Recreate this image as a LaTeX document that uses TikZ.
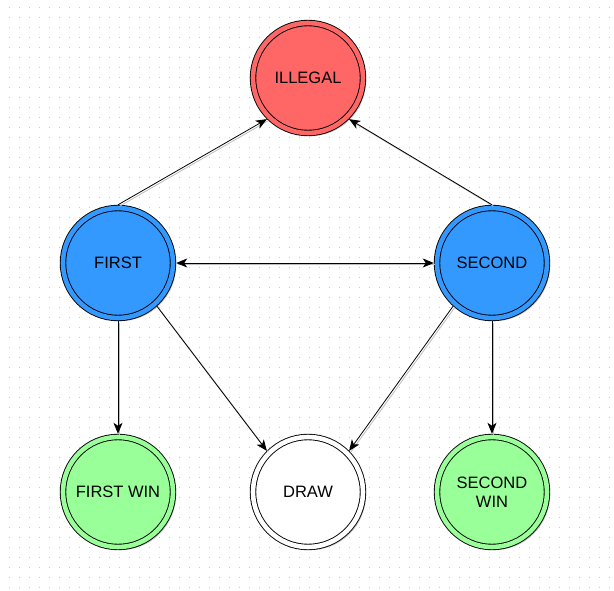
\documentclass[tikz,border=0pt]{standalone}
\usepackage{fontspec}
\setmainfont{Liberation Sans}
\usetikzlibrary{arrows.meta,shadows}
\definecolor{cred}{HTML}{FF6666}
\definecolor{cblue}{HTML}{3399FF}
\definecolor{cgreen}{HTML}{99FF99}
\definecolor{griddot}{HTML}{C8C8C8}
\definecolor{shcol}{HTML}{BEBEBE}
\tikzset{
  statenode/.style={circle, draw=black, line width=0.9pt, double=#1, double distance=4.6pt,
    fill=#1, minimum size=110pt, inner sep=0pt, outer sep=3.2pt, align=center,
    font=\fontsize{16.5}{19.5}\selectfont,
    drop shadow={shadow xshift=3pt, shadow yshift=-3pt, fill=shcol, opacity=0.8}},
  arr/.style={-{Stealth[length=11pt,width=9pt,inset=3pt]}, line width=0.8pt,
    preaction={draw=shcol, line width=0.8pt, -, transform canvas={shift={(1.5pt,-1.5pt)}}}},
  biarr/.style={{Stealth[length=11pt,width=9pt,inset=3pt]}-{Stealth[length=11pt,width=9pt,inset=3pt]}, line width=0.8pt,
    preaction={draw=shcol, line width=0.8pt, -, transform canvas={shift={(1.5pt,-1.5pt)}}}}
}
\begin{document}
\begin{tikzpicture}[x=1pt,y=-1pt]
\useasboundingbox[fill=white] (0,0) rectangle (614,591);
\foreach \i in {0,...,60}{
  \foreach \j in {0,...,58}{
    \fill[griddot] (9+10*\i,7+10*\j) rectangle ++(1.2,1.2);
  }
}
\node[statenode=cred] (illegal) at (308,78) {ILLEGAL};
\node[statenode=cblue] (first) at (118,263) {FIRST};
\node[statenode=cblue] (second) at (492,263) {SECOND};
\node[statenode=cgreen] (firstwin) at (118,492) {FIRST WIN};
\node[statenode=white] (draw) at (308,492) {DRAW};
\node[statenode=cgreen] (secondwin) at (492,492) {SECOND\\WIN};

\draw[arr] (first.north) -- (illegal.225);
\draw[arr] (second.north) -- (illegal.-45);
\draw[biarr] (first.east) -- (second.west);
\draw[arr] (first.south) -- (firstwin.north);
\draw[arr] (second.south) -- (secondwin.north);
\draw[arr] (first.-48) -- (draw.135);
\draw[arr] (second.-132) -- (draw.45);
\end{tikzpicture}
\end{document}
